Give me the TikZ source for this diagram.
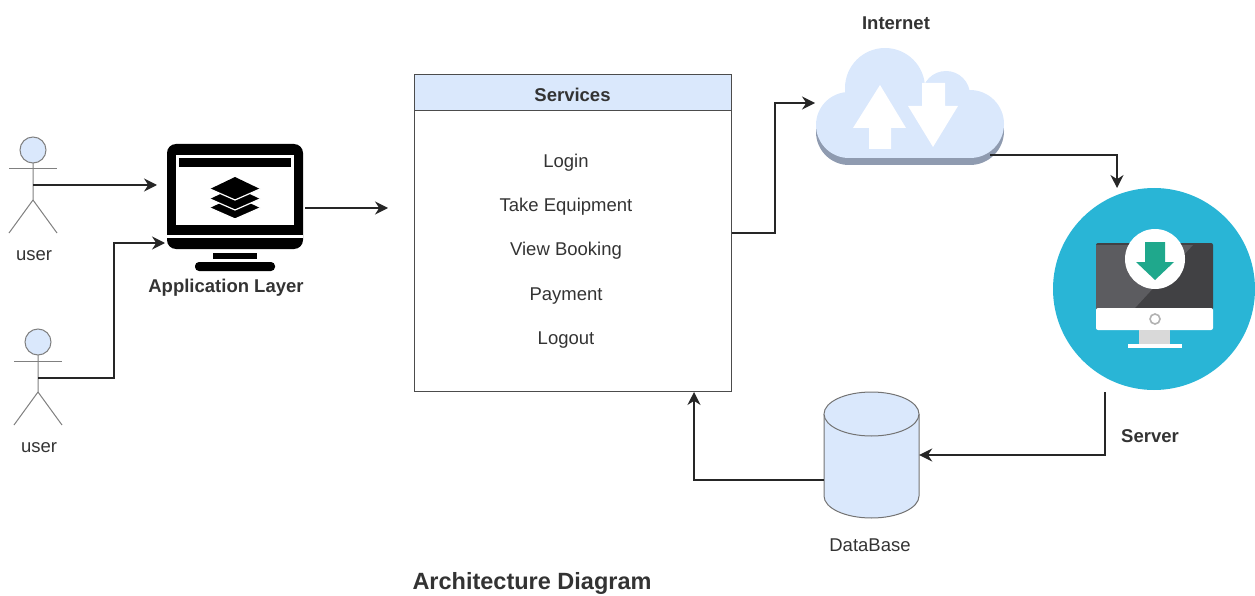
\documentclass[tikz,border=0pt]{standalone}
\usepackage{fontspec}
\setmainfont{Liberation Sans}
\usetikzlibrary{arrows.meta}
\definecolor{lightblue}{HTML}{DAE8FC}
\definecolor{actorgray}{HTML}{808080}
\definecolor{shadowgray}{HTML}{8F9BB0}
\definecolor{teal}{HTML}{29B5D6}
\definecolor{screendark}{HTML}{414144}
\definecolor{screenmid}{HTML}{5C5C60}
\definecolor{arrowgreen}{HTML}{1FA88C}
\definecolor{inkgray}{HTML}{333333}
\tikzset{
  conn/.style={draw=black!85, line width=1.5pt, -{Stealth[length=13pt, width=13pt]}},
  label/.style={text=inkgray, inner sep=0pt, font=\fontsize{18.5}{20}\selectfont},
  boldlabel/.style={label, font=\fontsize{18.5}{20}\selectfont\bfseries},
  actor/.style={draw=actorgray, line width=1pt},
  dbline/.style={draw=black!55, line width=1pt, fill=lightblue},
}
\begin{document}
\begin{tikzpicture}[x=1pt, y=-1pt]%
  \useasboundingbox (0, 0) rectangle (1255, 596);
  % users
  \foreach \name/\cx/\cy in {userA/33/150, userB/38/342} {
    \draw[actor, fill=lightblue] (\cx, \cy) circle (13);
    \draw[actor] (\cx, \cy + 13) -- (\cx, \cy + 50) -- (\cx - 24, \cy + 83);
    \draw[actor] (\cx, \cy + 50) -- (\cx + 24, \cy + 83);
    \draw[actor] (\cx - 24, \cy + 19) -- (\cx + 24, \cy + 19);
  }
  \coordinate (userA) at (33, 185);
  \coordinate (userB) at (38, 378);
  \node[label] (userAlabel) at (34, 256) {user};
  \node[label] (userBlabel) at (39, 448) {user};
  % application monitor
  \fill[black, rounded corners=9pt] (167, 144) rectangle (303, 249);
  \fill[white] (176, 155) rectangle (294, 225);
  \fill[black] (179, 158) rectangle (291, 167);
  \fill[white] (167, 235) rectangle (303, 238);
  \fill[black] (213, 253) rectangle (257, 259);
  \fill[black, rounded corners=4pt] (195, 262) rectangle (275, 271);
  \foreach \dy in {19, 10, 0} {
    \fill[black] (210, 189 + \dy) -- (235, 177 + \dy) -- (260, 189 + \dy) -- (235, 200 + \dy) -- cycle;
    \draw[white, line width=1.2pt] (210, 189 + \dy) -- (235, 200 + \dy) -- (260, 189 + \dy);
  }
  \node[minimum width=136pt, minimum height=127pt, inner sep=0pt] (app) at (235, 208) {};
  \coordinate (appInA) at (157, 185);
  \coordinate (appInB) at (165, 243);
  \coordinate (appOut) at (305, 208);
  \node[boldlabel] (applabel) at (226, 288) {Application Layer};
  % services
  \node[draw=black!70, line width=1pt, minimum width=317pt, minimum height=316pt, inner sep=0pt] (services) at (572.5, 233) {};
  \node[draw=black!70, line width=1pt, fill=lightblue, minimum width=317pt, minimum height=36pt, inner sep=0pt, anchor=north] (header) at (services.north) {};
  \node[boldlabel, yshift=-2pt] (title) at (header.center) {Services};
  \coordinate (servicesIn) at (388, 208);
  \coordinate (servicesBack) at (694, 392);
  \foreach \item/\text/\ypos in {login/Login/163, take/Take Equipment/207, view/View Booking/251, pay/Payment/296, logout/Logout/340} {
    \node[label] (\item) at (566, \ypos) {\text};
  }
  % internet cloud
  \begin{scope}[shadowgray]
    \fill (849, 132) circle (33);
    \fill (970, 131) circle (34);
    \fill (849, 120) rectangle (970, 165);
  \end{scope}
  \begin{scope}[lightblue]
    \fill (849, 125) circle (33);
    \fill (970, 124) circle (34);
    \fill (885, 88) circle (40);
    \fill (946, 95) circle (24);
    \fill (849, 100) rectangle (970, 158);
  \end{scope}
  \fill[white] (880, 85) -- (906, 128) -- (891, 128) -- (891, 149) -- (869, 149) -- (869, 128) -- (853, 128) -- cycle;
  \fill[white] (922, 83) -- (945, 83) -- (945, 106) -- (958, 106) -- (933, 147) -- (908, 106) -- (922, 106) -- cycle;
  \coordinate (cloudIn) at (815, 103);
  \coordinate (cloudOut) at (990, 155);
  \node[boldlabel] (internet) at (896, 23) {Internet};
  % server
  \node[circle, fill=teal, minimum size=202pt, inner sep=0pt] (server) at (1154, 289) {};
  \fill[screendark, rounded corners=2pt] (1096, 243) rectangle (1213, 310);
  \fill[screenmid] (1096, 245) -- (1193, 245) -- (1135, 308) -- (1096, 308) -- cycle;
  \fill[white, rounded corners=2pt] (1096, 308) rectangle (1213, 330);
  \draw[black!30, line width=1.6pt] (1155, 319) circle (5);
  \fill[black!15] (1139, 330) rectangle (1170, 344);
  \fill[white] (1128, 344) rectangle (1182, 348);
  \fill[white] (1155, 259) circle (30);
  \fill[arrowgreen] (1145, 242) -- (1165, 242) -- (1165, 262) -- (1174, 262) -- (1155, 280) -- (1136, 262) -- (1145, 262) -- cycle;
  \coordinate (serverIn) at (1117, 188);
  \coordinate (serverOut) at (1105, 392);
  \node[boldlabel] (serverlabel) at (1150, 436) {Server};
  % database
  \draw[dbline] (824, 414) -- (824, 496) arc[start angle=180, end angle=360, x radius=47.5, y radius=-22] -- (919, 414);
  \draw[dbline] (871.5, 414) ellipse[x radius=47.5, y radius=22];
  \node[minimum width=95pt, minimum height=126pt, inner sep=0pt] (db) at (871.5, 455) {};
  \coordinate (dbOut) at (824, 480);
  \node[label] (dblabel) at (870, 545) {DataBase};
  % connectors
  \draw[conn] (userA) -- (appInA);
  \draw[conn] (userB) -- (114, 378) |- (appInB);
  \draw[conn] (appOut) -- (servicesIn);
  \draw[conn] (services.east) -- (775, 233) |- (cloudIn);
  \draw[conn] (cloudOut) -| (serverIn);
  \draw[conn] (serverOut) |- (db.east);
  \draw[conn] (dbOut) -| (servicesBack);
  \node[text=inkgray, inner sep=0pt, font=\fontsize{23.5}{26}\selectfont\bfseries] (caption) at (532, 583) {Architecture Diagram};
\end{tikzpicture}
\end{document}
